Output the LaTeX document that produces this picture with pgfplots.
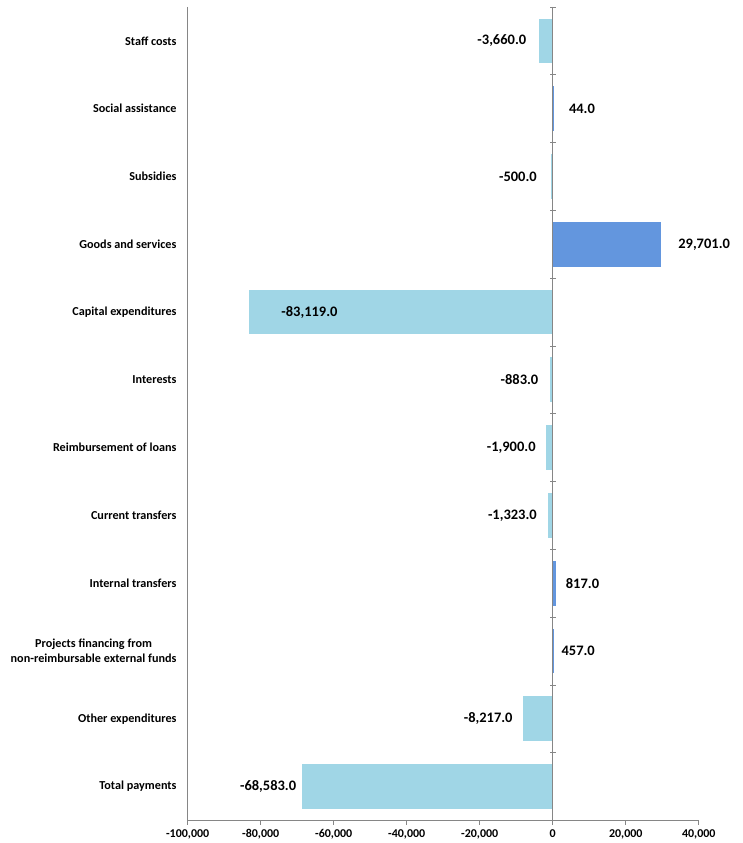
\documentclass[border=0pt]{standalone}
\usepackage{fontspec}
\setmainfont{Carlito}
\usepackage{pgfplots}
\pgfplotsset{compat=1.18}
\definecolor{lightbar}{RGB}{160,214,230}
\definecolor{darkbar}{RGB}{99,150,222}
\definecolor{axgray}{RGB}{134,134,134}

\pgfplotsset{
  negbar/.style={xbar, bar width=0.66, bar shift=0pt, fill=lightbar, draw=none,
    point meta=explicit symbolic, nodes near coords,
    nodes near coords style={font=\fontsize{14.5}{16}\selectfont\bfseries, inner sep=0pt, anchor=east, xshift=#1pt, text=black}},
  posbar/.style={xbar, bar width=0.66, bar shift=0pt, fill=darkbar, draw=none,
    point meta=explicit symbolic, nodes near coords,
    nodes near coords style={font=\fontsize{14.5}{16}\selectfont\bfseries, inner sep=0pt, anchor=west, xshift=#1pt, text=black}},
  inbar/.style={xbar, bar width=0.66, bar shift=0pt, fill=lightbar, draw=none,
    point meta=explicit symbolic, nodes near coords,
    nodes near coords style={font=\fontsize{14.5}{16}\selectfont\bfseries, inner sep=0pt, anchor=west, xshift=#1pt, text=black}},
}

\begin{document}
\begin{tikzpicture}
\begin{axis}[
  name=ax,
  scale only axis,
  width=512pt, height=815pt,
  xmin=-100000, xmax=40000,
  ymin=-0.5, ymax=11.5,
  y dir=reverse,
  axis x line*=bottom,
  axis y line*=left,
  axis line style={axgray, line width=0.8pt},
  xtick={-100000,-80000,-60000,-40000,-20000,0,20000,40000},
  xticklabels={{-100,000},{-80,000},{-60,000},{-40,000},{-20,000},0,{20,000},{40,000}},
  x tick label style={font=\fontsize{12}{14}\selectfont\bfseries, yshift=-1.5pt},
  x tick style={axgray, line width=0.8pt},
  major tick length=4pt,
  xtick pos=bottom,
  tick align=outside,
  ytick={0,...,11},
  y tick style={draw=none},
  yticklabels={Staff costs,Social assistance,Subsidies,Goods and services,Capital expenditures,Interests,Reimbursement of loans,Current transfers,Internal transfers,{Projects financing from\\non-reimbursable external funds},Other expenditures,Total payments},
  y tick label style={font=\fontsize{12.2}{15}\selectfont\bfseries, align=center, inner sep=0pt, anchor=east, xshift=-7pt},
  clip=false,
]
\addplot[negbar=-13] coordinates {(-3660,0) [{-3,660.0}]};
\addplot[posbar=16] coordinates {(44,1) [{44.0}]};
\addplot[negbar=-14] coordinates {(-500,2) [{-500.0}]};
\addplot[posbar=17] coordinates {(29701,3) [{29,701.0}]};
\addplot[inbar=32] coordinates {(-83119,4) [{-83,119.0}]};
\addplot[negbar=-11] coordinates {(-883,5) [{-883.0}]};
\addplot[negbar=-10] coordinates {(-1900,6) [{-1,900.0}]};
\addplot[negbar=-11] coordinates {(-1323,7) [{-1,323.0}]};
\addplot[posbar=10] coordinates {(817,8) [{817.0}]};
\addplot[posbar=7] coordinates {(457,9) [{457.0}]};
\addplot[negbar=-10] coordinates {(-8217,10) [{-8,217.0}]};
\addplot[negbar=-6] coordinates {(-68583,11) [{-68,583.0}]};
\addplot[axgray, line width=0.8pt, forget plot, mark=-, mark size=3pt, mark options={axgray, line width=0.8pt}] coordinates {
(0,-0.5) (0,0.5) (0,1.5) (0,2.5) (0,3.5) (0,4.5) (0,5.5) (0,6.5) (0,7.5) (0,8.5) (0,9.5) (0,10.5) (0,11.5)};
\end{axis}
\pgfresetboundingbox
\path ([xshift=-188pt,yshift=-22.5pt]ax.south west) rectangle ([xshift=44pt,yshift=7pt]ax.north east);
\end{tikzpicture}
\end{document}
